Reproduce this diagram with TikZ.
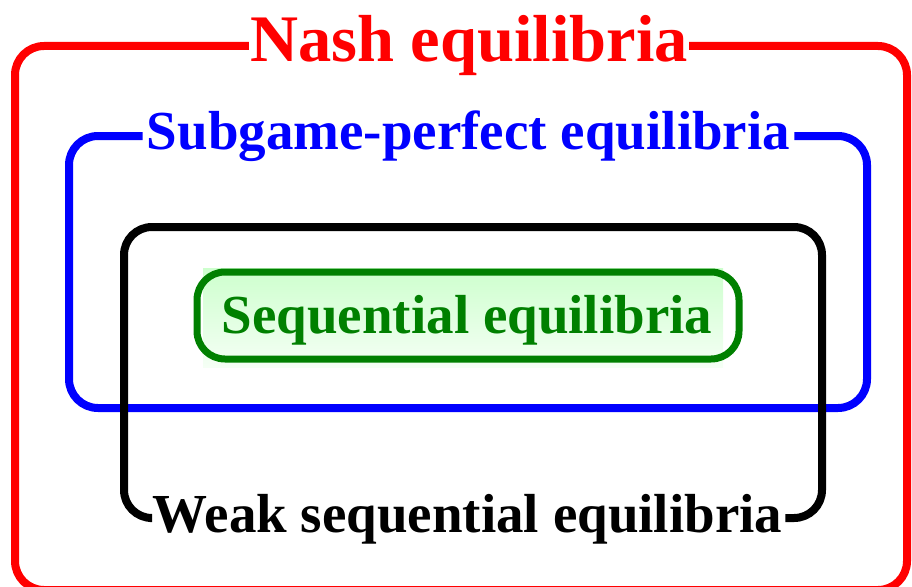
\documentclass[tikz,border=0pt]{standalone}
\usepackage{fontspec}
\setmainfont{Liberation Serif}
\begin{document}
\begin{tikzpicture}[x=1pt,y=-1pt,
  frame/.style={line width=8pt,rounded corners=29pt},
  ttl/.style={font=\bfseries\fontsize{55}{60}\selectfont,inner xsep=3pt,inner ysep=0pt,anchor=base}]
\useasboundingbox (0,0) rectangle (912,586);
\clip (0,0) rectangle (912,586);
\definecolor{sgreen}{RGB}{0,128,0}
\definecolor{gtop}{RGB}{205,255,205}
\definecolor{gbot}{RGB}{245,255,245}
% titles
\node[ttl,red,font=\bfseries\fontsize{66.5}{70}\selectfont,inner xsep=1pt] (nash) at (469,62) {Nash equilibria};
\node[ttl,blue,inner xsep=4pt] (spe) at (468.5,149) {Subgame-perfect equilibria};
\node[ttl,inner xsep=3pt] (wse) at (467.5,532) {Weak sequential equilibria};
% frames
\coordinate (redtop) at (0,46);
\coordinate (bluetop) at (0,136);
\coordinate (blackbot) at (0,518);
\draw[frame,red] (nash.west |- redtop) -- (15,46) -- (15,590) -- (907,590) -- (907,46) -- (nash.east |- redtop);
\draw[frame,blue] (spe.west |- bluetop) -- (69,136) -- (69,408) -- (867,408) -- (867,136) -- (spe.east |- bluetop);
\draw[frame,black,rounded corners=28pt] (wse.west |- blackbot) -- (124,518) -- (124,227) -- (822,227) -- (822,518) -- (wse.east |- blackbot);
% sequential
\shade[top color=gtop,bottom color=gbot] (203,268) rectangle (723,367);
\draw[sgreen,line width=7pt,rounded corners=28pt] (197,272) rectangle (739,359);
\node[ttl,text=sgreen] (seq) at (467,333) {Sequential equilibria};
\end{tikzpicture}
\end{document}
